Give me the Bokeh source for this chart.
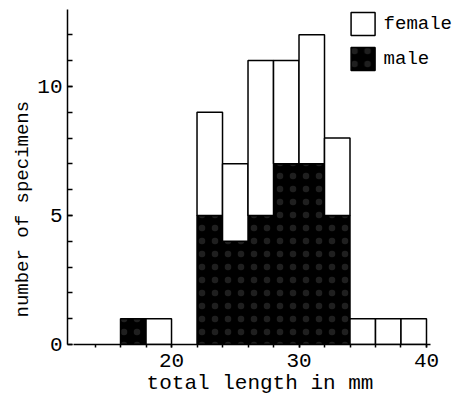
from bokeh.plotting import figure
from bokeh.models import FixedTicker, Legend, LegendItem, ColumnDataSource, Title
from bokeh.embed import file_html
from bokeh.resources import INLINE

# bin left edges (mm), bin width 2 mm
bin_left = [16, 18, 20, 22, 24, 26, 28, 30, 32, 34, 36, 38]
male = [1, 0, 0, 5, 4, 5, 7, 7, 5, 0, 0, 0]
female = [0, 1, 0, 4, 3, 6, 4, 5, 3, 1, 1, 1]
bin_width = 2
x_tick_labels = [20, 30, 40]
y_tick_labels = [0, 5, 10]

FONT = "Liberation Mono"

p = figure(width=462, height=399, output_backend="svg", toolbar_location=None,
           x_range=(11.84, 42.04), y_range=(0, 12.98),
           min_border_left=67, min_border_right=10, min_border_top=9, min_border_bottom=55)
p.outline_line_color = None
p.xgrid.grid_line_color = None
p.ygrid.grid_line_color = None
p.background_fill_color = "white"
p.border_fill_color = "white"

# male bars
mi = [i for i, v in enumerate(male) if v > 0]
msrc = ColumnDataSource(dict(
    left=[bin_left[i] for i in mi],
    right=[bin_left[i] + bin_width for i in mi],
    bottom=[0 for i in mi],
    top=[male[i] for i in mi]))
mr = p.quad(left="left", right="right", bottom="bottom", top="top", source=msrc,
            fill_color="black", line_color="black", line_width=1.5,
            hatch_pattern="dot", hatch_color="white", hatch_scale=13, hatch_weight=1, hatch_alpha=0.12)

fi = [i for i, v in enumerate(female) if v > 0]
fsrc = ColumnDataSource(dict(
    left=[bin_left[i] for i in fi],
    right=[bin_left[i] + bin_width for i in fi],
    bottom=[male[i] for i in fi],
    top=[male[i] + female[i] for i in fi]))
fr = p.quad(left="left", right="right", bottom="bottom", top="top", source=fsrc,
            fill_color="white", line_color="black", line_width=1.5)

legend = Legend(items=[LegendItem(label="female", renderers=[fr]),
                       LegendItem(label="male", renderers=[mr])],
                location="top_right", margin=0, padding=0, spacing=6,
                glyph_width=30, glyph_height=29, label_standoff=6,
                label_text_font=FONT, label_text_font_size="19px",
                label_text_color="black",
                background_fill_alpha=0, border_line_color=None)
p.add_layout(legend)

# axes
p.xaxis.ticker = FixedTicker(ticks=x_tick_labels, minor_ticks=list(range(14, 41, 2)))
p.yaxis.ticker = FixedTicker(ticks=y_tick_labels, minor_ticks=list(range(0, 13)))
p.xaxis.bounds = (12.3, 40.3)
p.yaxis.bounds = (0, 12.98)

for ax in (p.xaxis[0], p.yaxis[0]):
    ax.axis_line_color = "black"
    ax.axis_line_width = 1.5
    ax.major_tick_line_color = "black"
    ax.minor_tick_line_color = "black"
    ax.major_tick_line_width = 1.5
    ax.minor_tick_line_width = 1.5
    ax.major_label_text_font = FONT
    ax.major_label_text_font_size = "21px"
    ax.major_label_text_color = "black"
    ax.axis_label_text_font = FONT
    ax.axis_label_text_font_size = "21px"
    ax.axis_label_text_font_style = "normal"
    ax.axis_label_text_color = "black"

p.xaxis.axis_label = "total length in mm"
p.xaxis.major_tick_in = 0
p.xaxis.major_tick_out = 3
p.xaxis.minor_tick_in = 0
p.xaxis.minor_tick_out = 3
p.xaxis.major_label_standoff = 6
p.xaxis.axis_label_standoff = 2
p.yaxis.major_tick_in = 5
p.yaxis.major_tick_out = 0
p.yaxis.minor_tick_in = 5
p.yaxis.minor_tick_out = 0
p.yaxis.major_label_standoff = 5
p.yaxis.major_label_orientation = "horizontal"

ylab = Title(text="number of specimens", align="left", offset=27,
             text_font=FONT, text_font_size="19px", text_font_style="normal",
             text_color="black", standoff=2)
p.add_layout(ylab, "left")

open("out.html", "w").write(file_html(p, INLINE))
